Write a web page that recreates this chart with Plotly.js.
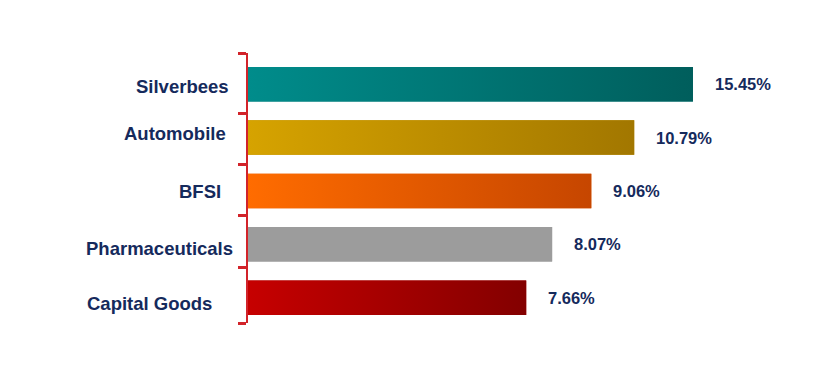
<!DOCTYPE html>
<html>
<head>
<meta charset="utf-8">
<script src="https://cdn.plot.ly/plotly-3.0.1.min.js"></script>
<style>html,body{margin:0;padding:0;background:#fff;}#chart{width:827px;height:379px;}</style>
</head>
<body>
<div id="chart"></div>
<script>
// Data
const categories = ['Silverbees', 'Automobile', 'BFSI', 'Pharmaceuticals', 'Capital Goods'];
const barLengths = [15.45, 13.41, 11.92, 10.56, 9.66];   // bar lengths as drawn
const valueLabels = ['15.45%', '10.79%', '9.06%', '8.07%', '7.66%'];
const colorStart = ['#008c8b', '#d6a300', '#ff6c00', '#9c9c9c', '#c60000'];
const colorEnd   = ['#005e5c', '#a27700', '#c64600', '#9c9c9c', '#830000'];
const colorMid   = ['#007574', '#bc8d00', '#e25a00', '#9c9c9c', '#a40000'];

// Styles / positions
const navy = '#152a5c';
const red = '#d2232a';
const half = 0.323;
const tickPositions = [-0.584, 0.545, 1.514, 2.469, 3.438, 4.474];
const labelShiftX = [-17, -20, -25, -13, -34];
const labelShiftY = [-2.5, 4, -1, -4, -5.5];

const idx = categories.map((_, i) => i);
const traces = [{
  type: 'bar', orientation: 'h',
  x: barLengths, y: idx, width: half * 2,
  marker: {color: colorMid}, hoverinfo: 'skip'
}];
idx.forEach(i => {
  const L = barLengths[i];
  traces.push({
    type: 'scatter', mode: 'lines',
    x: [0, L, L, 0, 0],
    y: [i - half, i - half, i + half, i + half, i - half],
    fill: 'toself',
    fillcolor: colorMid[i],
    fillgradient: {type: 'horizontal', colorscale: [[0, colorStart[i]], [1, colorEnd[i]]]},
    line: {width: 0, color: 'rgba(0,0,0,0)'},
    hoverinfo: 'skip'
  });
});

const annotations = [];
idx.forEach(i => {
  annotations.push({
    x: barLengths[i], y: i, xref: 'x', yref: 'y',
    text: valueLabels[i], showarrow: false,
    xanchor: 'left', yanchor: 'middle', xshift: 20,
    font: {family: 'Liberation Sans, Arial, sans-serif', size: 16.5, color: navy, weight: 'bold'}
  });
  annotations.push({
    x: 0, y: i, xref: 'paper', yref: 'y',
    text: categories[i], showarrow: false,
    xanchor: 'right', yanchor: 'middle',
    xshift: labelShiftX[i], yshift: labelShiftY[i],
    font: {family: 'Liberation Sans, Arial, sans-serif', size: 18.5, color: navy, weight: 'bold'}
  });
});

const layout = {
  width: 827, height: 379,
  margin: {l: 248, r: 3, t: 53, b: 56},
  paper_bgcolor: '#ffffff', plot_bgcolor: '#ffffff',
  showlegend: false,
  xaxis: {range: [0, 20], visible: false, fixedrange: true},
  yaxis: {
    range: [tickPositions[tickPositions.length - 1], tickPositions[0]],
    tickmode: 'array',
    tickvals: tickPositions,
    ticktext: tickPositions.map(() => ''),
    showticklabels: false,
    ticks: 'outside', ticklen: 8, tickwidth: 3, tickcolor: red,
    showline: true, linecolor: red, linewidth: 2,
    showgrid: false, zeroline: false, fixedrange: true
  },
  annotations: annotations
};

Plotly.newPlot('chart', traces, layout, {displayModeBar: false, staticPlot: true});
</script>
</body>
</html>
